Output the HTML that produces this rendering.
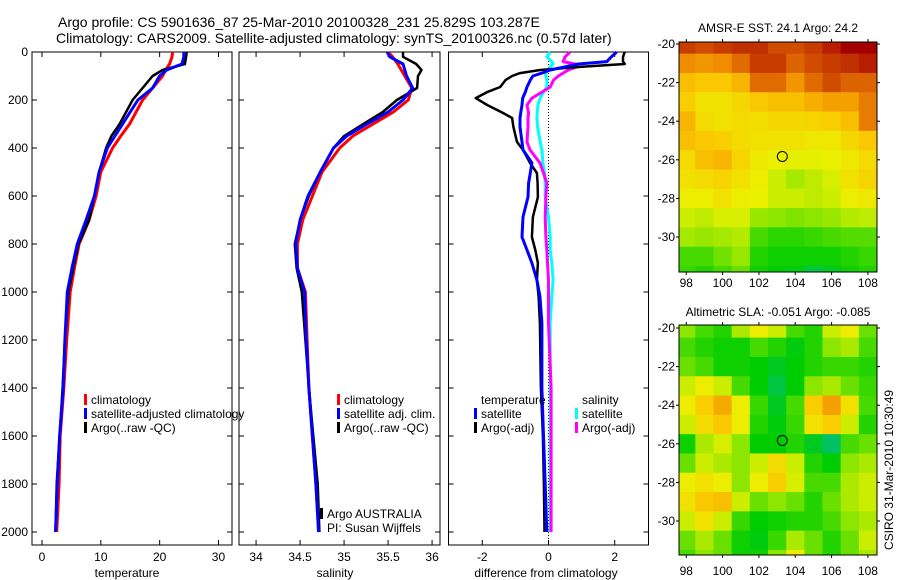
<!DOCTYPE html>
<html><head><meta charset="utf-8"><style>
html,body{margin:0;padding:0;background:#fff;}
svg{display:block;font-family:"Liberation Sans",sans-serif;}
</style></head><body>
<svg id="fig" width="900" height="580" viewBox="0 0 900 580">
<text x="58" y="27" font-size="14">Argo profile: CS 5901636_87 25-Mar-2010 20100328_231 25.829S 103.287E</text>
<text x="56" y="43" font-size="14">Climatology: CARS2009. Satellite-adjusted climatology: synTS_20100326.nc (0.57d later)</text>
<text transform="translate(893,470) rotate(-90)" text-anchor="middle" font-size="12">CSIRO 31-Mar-2010 10:30:49</text>
</svg>
<script>
// ---------- profile data ----------
const depths = [0,20,50,75,100,150,200,250,300,350,400,500,600,700,800,900,1000,1200,1400,1600,1800,2000];
const tempClim = [22.2,22.1,21.7,21.0,20.5,18.8,17.1,16.0,14.9,13.4,12.0,10.0,9.2,8.0,6.3,5.5,4.8,4.2,3.7,3.1,2.9,2.5];
const tempSat = [24.1,24.1,23.8,21.2,20.0,18.8,16.3,15.0,13.7,12.4,11.1,9.7,8.9,7.5,6.0,5.1,4.3,3.9,3.6,3.0,2.6,2.3];
const tempArgo = [24.6,24.5,24.3,20.5,18.8,17.1,15.4,14.3,13.2,11.8,10.9,9.7,8.9,8.0,6.2,5.3,4.5,3.9,3.5,3.0,2.5,2.3];
const salClim = [35.50,35.55,35.61,35.65,35.69,35.77,35.73,35.56,35.33,35.10,34.95,34.75,34.64,34.53,34.47,34.47,34.56,34.58,34.60,34.64,34.68,34.71];
const salSat = [35.49,35.52,35.67,35.69,35.71,35.78,35.67,35.50,35.26,35.03,34.88,34.73,34.59,34.50,34.45,34.47,34.55,34.57,34.60,34.64,34.68,34.71];
const salArgo = [35.67,35.67,35.82,35.88,35.84,35.83,35.60,35.44,35.22,35.00,34.88,34.73,34.60,34.50,34.44,34.46,34.52,34.56,34.60,34.65,34.70,34.72];
const diffDepths = [0,20,40,50,62,75,88,100,117,146,167,192,221,254,275,312,375,408,462,504,546,604,687,771,825,879,950,1017,1129,1400,1600,1800,2000];
const dTempArgo = [2.3,2.25,2.25,2.3,0.95,-0.25,-0.86,-1.1,-1.3,-1.46,-1.85,-2.2,-1.85,-1.37,-1.1,-1.06,-0.95,-0.77,-0.56,-0.35,-0.33,-0.32,-0.47,-0.5,-0.4,-0.32,-0.35,-0.3,-0.26,-0.23,-0.17,-0.14,-0.12];
const dTempSat = [2.06,1.9,1.76,0.9,0.5,0.05,-0.2,-0.47,-0.55,-0.65,-0.7,-0.78,-0.8,-0.84,-0.86,-0.86,-0.8,-0.77,-0.5,-0.55,-0.6,-0.62,-0.77,-0.8,-0.65,-0.5,-0.35,-0.26,-0.2,-0.2,-0.15,-0.1,-0.05];
const dSalArgo = [0.65,0.5,0.44,0.8,0.86,0.6,0.44,0.3,0.15,0.05,-0.2,-0.5,-0.65,-0.6,-0.62,-0.62,-0.65,-0.56,-0.26,-0.15,-0.05,-0.08,-0.1,-0.08,-0.05,-0.03,0,0,0,0.08,0.08,0.08,0.08];
const dSalSat = [0.05,-0.05,0.1,0.14,0.05,0,-0.1,-0.08,-0.05,-0.05,-0.15,-0.25,-0.32,-0.34,-0.35,-0.33,-0.25,-0.2,-0.17,-0.12,-0.1,-0.1,0,0.05,0.05,0.1,0.14,0.1,0.05,0.05,0.05,0.05,0.05];
const depthTicks = [0,200,400,600,800,1000,1200,1400,1600,1800,2000];
const tempTicks = [0,10,20,30];
const salTicks = [34,34.5,35,35.5,36];
const diffTicks = [-2,0,2];
// ---------- map data (rows lat -20..-32, cols lon 98..108) ----------
const mapLons = [98,99,100,101,102,103,104,105,106,107,108];
const mapLats = [-20,-21,-22,-23,-24,-25,-26,-27,-28,-29,-30,-31,-32];
const sstGrid = [
[0.90,0.88,0.90,0.92,0.92,0.88,0.88,0.90,0.95,1.00,1.00],
[0.80,0.78,0.80,0.84,0.90,0.90,0.85,0.88,0.90,0.92,0.95],
[0.70,0.68,0.68,0.72,0.84,0.84,0.78,0.84,0.88,0.85,0.85],
[0.66,0.60,0.60,0.63,0.68,0.70,0.70,0.73,0.76,0.76,0.82],
[0.72,0.62,0.60,0.62,0.61,0.63,0.63,0.64,0.66,0.70,0.82],
[0.70,0.68,0.66,0.62,0.60,0.60,0.60,0.58,0.58,0.63,0.68],
[0.62,0.70,0.72,0.64,0.58,0.55,0.54,0.54,0.55,0.58,0.62],
[0.60,0.62,0.64,0.60,0.56,0.50,0.44,0.48,0.52,0.60,0.64],
[0.56,0.56,0.60,0.56,0.55,0.50,0.50,0.48,0.50,0.56,0.58],
[0.50,0.48,0.52,0.52,0.42,0.40,0.38,0.40,0.42,0.46,0.48],
[0.44,0.42,0.44,0.46,0.30,0.26,0.26,0.28,0.30,0.32,0.32],
[0.30,0.30,0.36,0.42,0.25,0.22,0.22,0.22,0.22,0.25,0.28],
[0.28,0.25,0.30,0.35,0.22,0.20,0.18,0.10,0.15,0.22,0.25]];
const slaGrid = [
[0.40,0.30,0.25,0.45,0.56,0.50,0.30,0.25,0.50,0.56,0.35],
[0.30,0.25,0.22,0.22,0.30,0.25,0.18,0.25,0.40,0.45,0.30],
[0.35,0.30,0.22,0.22,0.20,0.15,0.20,0.25,0.28,0.28,0.25],
[0.50,0.56,0.50,0.30,0.20,0.10,0.20,0.40,0.45,0.35,0.28],
[0.56,0.66,0.74,0.56,0.28,0.15,0.30,0.66,0.76,0.60,0.30],
[0.50,0.62,0.68,0.56,0.25,0.18,0.28,0.60,0.66,0.50,0.25],
[0.22,0.45,0.52,0.40,0.20,0.20,0.25,0.15,0.05,0.30,0.35],
[0.35,0.50,0.45,0.40,0.50,0.62,0.50,0.25,0.20,0.40,0.45],
[0.56,0.60,0.56,0.40,0.56,0.66,0.52,0.30,0.30,0.45,0.50],
[0.60,0.68,0.70,0.50,0.35,0.40,0.35,0.25,0.35,0.45,0.50],
[0.50,0.60,0.50,0.28,0.20,0.22,0.25,0.25,0.30,0.40,0.45],
[0.35,0.45,0.35,0.22,0.18,0.28,0.45,0.35,0.25,0.35,0.50],
[0.30,0.40,0.35,0.22,0.22,0.40,0.56,0.35,0.25,0.35,0.45]];
const argoPos = [103.287,-25.829];
const latTicks = [-20,-22,-24,-26,-28,-30];
const lonTicks = [98,100,102,104,106,108];

const NS='http://www.w3.org/2000/svg';
const svg=document.getElementById('fig');
function el(tag,attrs,parent){const e=document.createElementNS(NS,tag);for(const k in attrs)e.setAttribute(k,attrs[k]);(parent||svg).appendChild(e);return e;}
function txt(x,y,s,size,anchor,parent){const t=el('text',{x:x,y:y,'font-size':size,'text-anchor':anchor||'start'},parent);t.textContent=s;return t;}

const top0=52, bot=545, dScale=0.24;
const yD=d=>top0+d*dScale;
function linX(x0,x1,v0,v1){return v=>x0+(v-v0)*(x1-x0)/(v1-v0);}

const panels=[
 {name:'temperature-panel',x0:32,x1:232,v0:-1.7,v1:32.3,ticks:tempTicks,label:'temperature',lx:127},
 {name:'salinity-panel',x0:239,x1:440,v0:33.806,v1:36.09,ticks:salTicks,label:'salinity',lx:335},
 {name:'difference-panel',x0:448.5,x1:648.5,v0:-3.02,v1:3.02,ticks:diffTicks,label:'difference from climatology',lx:546}
];
panels.forEach((p,i)=>{
 p.sx=linX(p.x0,p.x1,p.v0,p.v1);
 const g=el('g',{});
 
 
 p.g=g;
 el('rect',{x:p.x0,y:top0,width:p.x1-p.x0,height:bot-top0,fill:'none',stroke:'#000','stroke-width':1},g);
 depthTicks.forEach(d=>{
  el('line',{x1:p.x0,x2:p.x0+5,y1:yD(d),y2:yD(d),stroke:'#000'},g);
  el('line',{x1:p.x1,x2:p.x1-5,y1:yD(d),y2:yD(d),stroke:'#000'},g);
  if(i===0){const t=txt(28,yD(d)+4,String(d),12,'end',g);
   
   }
 });
 p.ticks.forEach(v=>{
  const x=p.sx(v);
  el('line',{x1:x,x2:x,y1:bot,y2:bot-5,stroke:'#000'},g);
  el('line',{x1:x,x2:x,y1:top0,y2:top0+5,stroke:'#000'},g);
  const t=txt(x,561,String(v),12,'middle',g);
  
  
 });
 const at=txt(p.lx,577,p.label,12,'middle',g);
 
 
});
el('line',{x1:panels[2].sx(0),x2:panels[2].sx(0),y1:top0,y2:bot,stroke:'#000','stroke-dasharray':'1,2'},panels[2].g);

function series(p,xs,ds,color,w,name){
 const pts=xs.map((v,k)=>p.sx(v).toFixed(1)+','+yD(ds[k]).toFixed(1)).join(' ');
 const pl=el('polyline',{points:pts,fill:'none',stroke:color,'stroke-width':w,'stroke-linejoin':'round'},p.g);
 
 
}
series(panels[0],tempClim,depths,'#f00',3,'temperature-climatology-line');
series(panels[0],tempArgo,depths,'#000',2.5,'temperature-argo-line');
series(panels[0],tempSat,depths,'#00f',3,'temperature-satellite-line');
series(panels[1],salClim,depths,'#f00',3,'salinity-climatology-line');
series(panels[1],salArgo,depths,'#000',2.5,'salinity-argo-line');
series(panels[1],salSat,depths,'#00f',3,'salinity-satellite-line');
series(panels[2],dSalSat,diffDepths,'#0ff',3,'salinity-satellite-diff-line');
series(panels[2],dSalArgo,diffDepths,'#f0f',3,'salinity-argo-diff-line');
series(panels[2],dTempArgo,diffDepths,'#000',2.5,'temperature-argo-diff-line');
series(panels[2],dTempSat,diffDepths,'#00f',3,'temperature-satellite-diff-line');

function legend(g,x,y,color,label){
 const lg=el('g',{},g);
 
 
 if(color) el('rect',{x:x-7,y:y-10,width:3,height:11,fill:color},lg);
 txt(x,y,label,12,'start',lg);
}
legend(panels[0].g,91,404,'#f00','climatology');
legend(panels[0].g,91,418,'#00f','satellite-adjusted climatology');
legend(panels[0].g,91,432,'#000','Argo(..raw -QC)');
legend(panels[1].g,344,404,'#f00','climatology');
legend(panels[1].g,344,418,'#00f','satellite adj. clim.');
legend(panels[1].g,344,432,'#000','Argo(..raw -QC)');
legend(panels[1].g,327,518,'#000','Argo AUSTRALIA');
legend(panels[1].g,327,532,null,'PI: Susan Wijffels');
legend(panels[2].g,481,404,null,'temperature');
legend(panels[2].g,481,418,'#00f','satellite');
legend(panels[2].g,481,432,'#000','Argo(-adj)');
legend(panels[2].g,582,404,null,'salinity');
legend(panels[2].g,582,418,'#0ff','satellite');
legend(panels[2].g,582,432,'#f0f','Argo(-adj)');

// ---------- maps ----------
const cmapStops=[[0,[0,190,130]],[0.2,[0,205,0]],[0.4,[140,230,0]],[0.55,[235,240,0]],[0.68,[250,200,0]],[0.8,[240,140,0]],[0.9,[200,60,0]],[1,[165,0,0]]];
function cmap(v){
 for(let k=1;k<cmapStops.length;k++){
  if(v<=cmapStops[k][0]){const a=cmapStops[k-1],b=cmapStops[k];const t=(v-a[0])/(b[0]-a[0]);
   return 'rgb('+a[1].map((c,j)=>Math.round(c+(b[1][j]-c)*t)).join(',')+')';}
 }
 return 'rgb(165,0,0)';
}
function drawMap(name,title,grid,x0,x1,y0,y1,latTop,titleY,labY){
 const g=el('g',{});
 
 
 const sx=linX(x0,x1,97.6,108.5);
 const sy=v=>latTop+(-20-v)*19.3;
 const clip=el('clipPath',{id:name+'-clip'},g);
 el('rect',{x:x0,y:y0,width:x1-x0,height:y1-y0},clip);
 const cg=el('g',{'clip-path':'url(#'+name+'-clip)'},g);
 grid.forEach((row,r)=>row.forEach((v,c)=>{
  const lon=mapLons[c], lat=mapLats[r];
  const cell=el('rect',{x:sx(lon-0.5),y:sy(lat+0.5),width:sx(lon+0.5)-sx(lon-0.5)+0.6,height:sy(lat-0.5)-sy(lat+0.5)+0.6,fill:cmap(v)},cg);
  
  
 }));
 el('rect',{x:x0,y:y0,width:x1-x0,height:y1-y0,fill:'none',stroke:'#000'},g);
 latTicks.forEach(v=>{const y=sy(v);
  el('line',{x1:x0,x2:x0-3,y1:y,y2:y,stroke:'#000'},g);
  el('line',{x1:x1,x2:x1+3,y1:y,y2:y,stroke:'#000'},g);
  const t=txt(x0-4,y+4,String(v),12,'end',g);
  
  });
 lonTicks.forEach(v=>{const x=sx(v);
  el('line',{x1:x,x2:x,y1:y1,y2:y1+3,stroke:'#000'},g);
  el('line',{x1:x,x2:x,y1:y0,y2:y0-3,stroke:'#000'},g);
  const t=txt(x,labY,String(v),12,'middle',g);
  
  });
 const c=el('circle',{cx:sx(argoPos[0]),cy:sy(argoPos[1]),r:5,fill:'none',stroke:'#000'},g);
 
 
 const tt=txt((x0+x1)/2,titleY,title,12,'middle',g);
 
 
}
drawMap('sst-map','AMSR-E SST: 24.1 Argo: 24.2',sstGrid,679,877,42,272,44,32,287);
drawMap('sla-map','Altimetric SLA: -0.051 Argo: -0.085',slaGrid,679,877,325,555,328,316,575);
</script>
</body></html>
